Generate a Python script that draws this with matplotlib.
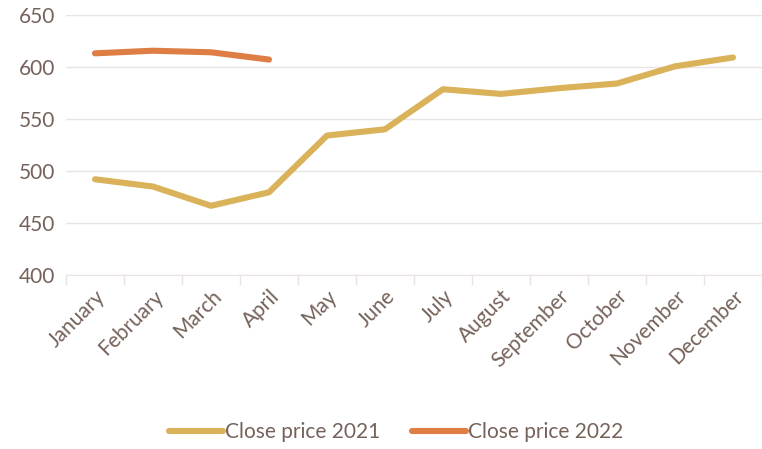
import matplotlib
matplotlib.use('Agg')
import matplotlib.pyplot as plt

months = ['January', 'February', 'March', 'April', 'May', 'June', 'July',
          'August', 'September', 'October', 'November', 'December']
close_2021 = [492, 485, 466.5, 479.5, 534, 540, 578.5, 574, 579.5, 584, 600.5, 609]
close_2022 = [613, 615.5, 614, 607]

text_color = '#75625A'
grid_color = '#E9E4E1'

plt.rcParams['font.family'] = ['Lato', 'DejaVu Sans']

fig = plt.figure(figsize=(7.62, 4.49), dpi=100)
ax = fig.add_axes([0.0866, 0.3875, 0.9134, 0.5795])

x = list(range(len(months)))
ax.plot(x, close_2021, color='#D9B25A', linewidth=4.4, solid_capstyle='round',
        solid_joinstyle='round', label='Close price 2021')
ax.plot(x[:len(close_2022)], close_2022, color='#DE7E45', linewidth=4.4,
        solid_capstyle='round', solid_joinstyle='round', label='Close price 2022')

ax.set_ylim(400, 650)
ax.set_yticks([400, 450, 500, 550, 600, 650])
ax.set_xlim(-0.5, len(months) - 0.5)
ax.set_xticks(x)
ax.set_xticklabels(months, rotation=45, ha='right', rotation_mode='anchor')

# category boundary ticks like the original
ax.set_xticks([i - 0.5 for i in range(len(months) + 1)], minor=True)
ax.tick_params(axis='x', which='major', length=0, pad=8, labelsize=15, labelcolor=text_color)
ax.tick_params(axis='x', which='minor', length=7, width=1, color=grid_color)
ax.tick_params(axis='y', length=0, pad=8, labelsize=15, labelcolor=text_color)

ax.grid(axis='y', color=grid_color, linewidth=1)
ax.set_axisbelow(True)
for s in ['top', 'right', 'left']:
    ax.spines[s].set_visible(False)
ax.spines['bottom'].set_color(grid_color)

fig.legend(loc='center', bbox_to_anchor=(0.52, 0.038), ncol=2, frameon=False,
           fontsize=15, labelcolor=text_color, handlelength=2.6, columnspacing=1.5,
           handletextpad=0.1)

fig.savefig('out.png', dpi=100)
